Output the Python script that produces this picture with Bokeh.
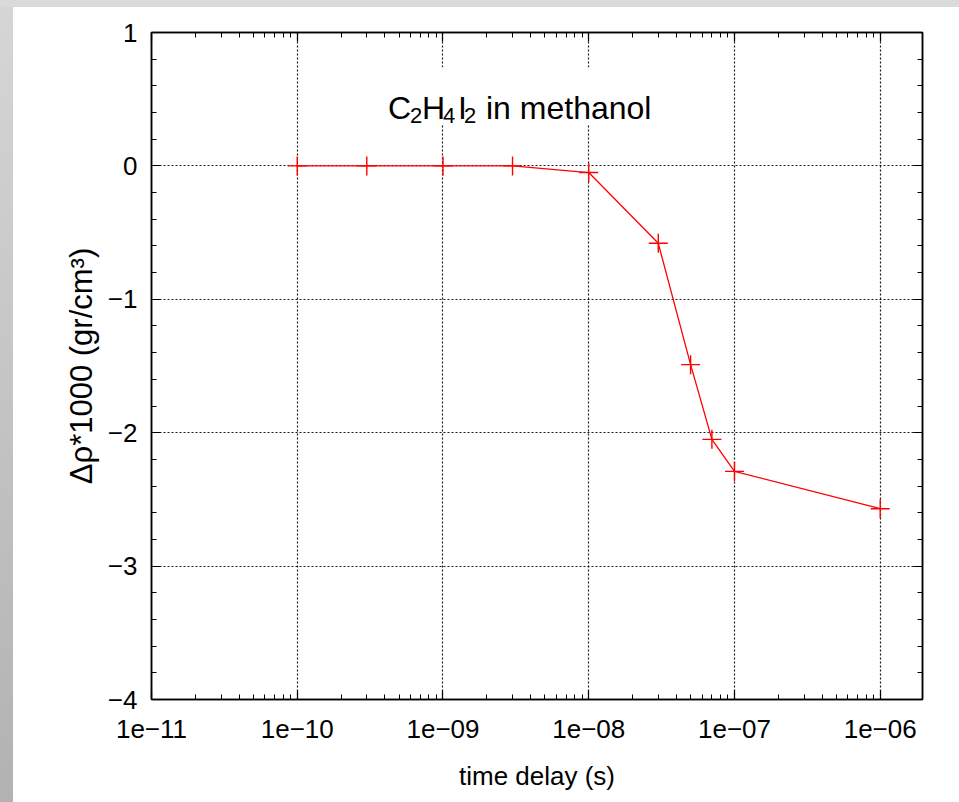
from bokeh.plotting import figure
from bokeh.models import (FixedTicker, LogAxis, LinearAxis,
                          CustomJSTickFormatter, BoxAnnotation, Label, Range1d)
from bokeh.embed import file_html
from bokeh.resources import INLINE

# ---- data ----
time_delay_s = [1e-10, 3e-10, 1e-9, 3e-9, 1e-8, 3e-8, 5e-8, 7e-8, 1e-7, 1e-6]
delta_rho_x1000 = [0.0, 0.0, 0.0, 0.0, -0.05, -0.58, -1.49, -2.05, -2.29, -2.57]
x_major_ticks = [1e-11, 1e-10, 1e-9, 1e-8, 1e-7, 1e-6]
y_major_ticks = [-4, -3, -2, -1, 0, 1]
x_title = "time delay (s)"
y_title = "\u0394\u03c1*1000 (gr/cm\u00b3)"
annot_parts = ["C", "2", "H", "4", "I", "2", "in methanol"]

x_minor_ticks = [m * 10.0 ** e for e in range(-11, -5) for m in range(2, 10)]

REG = "Liberation Sans"

p = figure(width=959, height=802, x_axis_type="log",
           x_range=Range1d(1e-11, 1.95e-6), y_range=Range1d(-4, 1),
           output_backend="svg", toolbar_location=None,
           min_border_left=151, min_border_right=37,
           min_border_top=32, min_border_bottom=103)
p.border_fill_color = None
p.background_fill_color = "white"
p.outline_line_color = "black"
p.outline_line_width = 1.5
p.styles = {"background": (
    "linear-gradient(#ffffff,#ffffff) 13px 7px / 946px 795px no-repeat, "
    "linear-gradient(#dadada,#dadada) 0 0 / 100% 7px no-repeat, "
    "linear-gradient(to bottom, #d6d6d6, #b2b2b2)")}

x_ticker = FixedTicker(ticks=x_major_ticks, minor_ticks=x_minor_ticks)
y_ticker = FixedTicker(ticks=y_major_ticks,
                       minor_ticks=[t + k * 0.2 for t in y_major_ticks[:-1] for k in range(1, 5)])

x_fmt = CustomJSTickFormatter(code="""
const e = Math.round(Math.log10(tick));
const a = Math.abs(e);
return '1e' + (e < 0 ? '\u2212' : '+') + (a < 10 ? '0' : '') + a;
""")
y_fmt = CustomJSTickFormatter(code="return (tick < 0 ? '\u2212' : '') + Math.abs(Math.round(tick));")
blank = CustomJSTickFormatter(code="return '';")

def style_axis(ax):
    ax.axis_line_color = "black"
    ax.axis_line_width = 1.5
    ax.major_tick_line_color = "black"
    ax.minor_tick_line_color = "black"
    ax.major_tick_line_width = 1.2
    ax.minor_tick_line_width = 1.0
    ax.major_tick_in = 9
    ax.major_tick_out = 0
    ax.minor_tick_in = 5
    ax.minor_tick_out = 0
    ax.major_label_text_font = REG
    ax.major_label_text_font_size = "26px"
    ax.major_label_text_color = "black"

xa = p.xaxis[0]
xa.ticker = x_ticker
xa.formatter = x_fmt
style_axis(xa)
xa.major_label_standoff = 20
xa.axis_label = x_title
xa.axis_label_text_font = REG
xa.axis_label_text_font_size = "26px"
xa.axis_label_text_font_style = "normal"
xa.axis_label_text_color = "black"
xa.axis_label_standoff = 20

ya = p.yaxis[0]
ya.ticker = y_ticker
ya.formatter = y_fmt
style_axis(ya)
ya.major_label_standoff = 14
ya.axis_label = y_title
ya.axis_label_text_font = REG
ya.axis_label_text_font_size = "31px"
ya.axis_label_text_font_style = "normal"
ya.axis_label_text_color = "black"
ya.axis_label_standoff = 6

top = LogAxis(ticker=x_ticker, formatter=blank, major_label_standoff=0)
style_axis(top)
p.add_layout(top, "above")
right = LinearAxis(ticker=y_ticker, formatter=blank, major_label_standoff=0)
style_axis(right)
p.add_layout(right, "right")

for g, t in ((p.xgrid[0], x_ticker), (p.ygrid[0], y_ticker)):
    g.ticker = t
    g.grid_line_color = "black"
    g.grid_line_dash = "2 2"
    g.grid_line_width = 1.2
    g.grid_line_alpha = 0.9

p.line(time_delay_s, delta_rho_x1000, line_color="red", line_width=1.3)
p.scatter(time_delay_s, delta_rho_x1000, marker="cross", size=19,
          line_color="red", line_width=1.4)

# annotation box with white background and subscripted formula
p.add_layout(BoxAnnotation(left=3.2e-10, right=3.85e-8, top=0.74, bottom=0.31,
                           fill_color="white", fill_alpha=1.0, line_color=None))
anchor_x, base_y, sub_y = 1e-9, 0.4325, 0.375
offsets = [-55, -33, -21, 0, 15, 21, 43]
for txt, off in zip(annot_parts, offsets):
    is_sub = txt.isdigit()
    p.add_layout(Label(x=anchor_x, y=sub_y if is_sub else base_y, x_offset=off,
                       text=txt, text_font=REG,
                       text_font_size="22px" if is_sub else "32px",
                       text_color="black", text_baseline="alphabetic",
                       text_align="left"))

open("out.html", "w").write(file_html(p, INLINE))
